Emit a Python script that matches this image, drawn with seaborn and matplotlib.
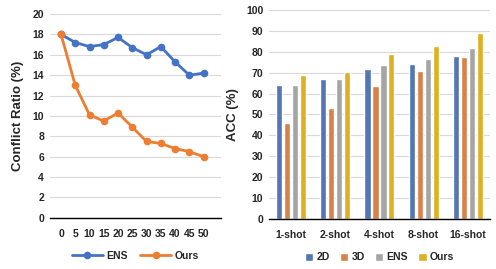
import pandas as pd
import numpy as np
import matplotlib
matplotlib.use('Agg')
import matplotlib.pyplot as plt
import seaborn as sns

# datos del grafico de la izquierda
pasos = [0, 5, 10, 15, 20, 25, 30, 35, 40, 45, 50]
ens_conflicto = [18.0, 17.2, 16.8, 17.0, 17.7, 16.7, 16.0, 16.8, 15.3, 14.0, 14.2]
ours_conflicto = [18.0, 13.0, 10.1, 9.5, 10.3, 8.9, 7.5, 7.3, 6.8, 6.5, 6.0]

# datos del grafico de la derecha
shots = ['1-shot', '2-shot', '4-shot', '8-shot', '16-shot']
acc_2d = [64.3, 66.9, 71.7, 74.1, 78.1]
acc_3d = [45.9, 53.1, 63.8, 70.7, 77.6]
acc_ens = [64.3, 66.9, 73.8, 76.7, 82.0]
acc_ours = [68.8, 70.2, 78.8, 82.7, 88.9]
metodos = ['2D', '3D', 'ENS', 'Ours']

colores = ['#4472C4', '#ED7D31', '#A5A5A5', '#FFC000']

sns.set_style('white')
plt.rcParams['font.family'] = ['Liberation Sans', 'DejaVu Sans']
plt.rcParams['font.weight'] = 'bold'

fig = plt.figure(figsize=(4.96, 2.69), dpi=100)
ax1 = fig.add_axes([0.100, 0.19, 0.345, 0.758])
ax2 = fig.add_axes([0.542, 0.186, 0.446, 0.777])

# linea de conflicto
df_lineas = pd.DataFrame({
    'paso': pasos * 2,
    'valor': ens_conflicto + ours_conflicto,
    'metodo': ['ENS'] * len(pasos) + ['Ours'] * len(pasos),
})
sns.lineplot(data=df_lineas, x='paso', y='valor', hue='metodo',
             palette=colores[:2], marker='o', markersize=5.5,
             markeredgewidth=0, linewidth=2, ax=ax1)
ax1.set_ylim(0, 20)
ax1.set_xlim(-4, 56)
ax1.set_yticks(range(0, 21, 2))
ax1.set_xticks(pasos)
ax1.grid(axis='y', color='#D9D9D9', linewidth=0.8)
ax1.set_axisbelow(True)
for s in ['top', 'right', 'left']:
    ax1.spines[s].set_visible(False)
ax1.spines['bottom'].set_color('black')
ax1.spines['bottom'].set_linewidth(1)
ax1.tick_params(axis='both', length=0, labelsize=7.5, pad=4)
ax1.tick_params(axis='x', pad=8)
ax1.set_xlabel('')
ax1.set_ylabel('Conflict Ratio (%)', fontsize=9.5, fontweight='bold', labelpad=6)
ax1.legend(loc='upper center', bbox_to_anchor=(0.5, -0.115), ncol=2,
           frameon=False, fontsize=7.5, handlelength=3, columnspacing=1.2,
           handletextpad=0.3)

# barras de accuracy
df_barras = pd.DataFrame({
    'shot': shots * 4,
    'acc': acc_2d + acc_3d + acc_ens + acc_ours,
    'metodo': [m for m in metodos for _ in shots],
})
sns.barplot(data=df_barras, x='shot', y='acc', hue='metodo', palette=colores,
            width=0.72, gap=0.22, ax=ax2)
ax2.set_ylim(0, 100)
ax2.set_yticks(range(0, 101, 10))
ax2.grid(axis='y', color='#D9D9D9', linewidth=0.8)
ax2.set_axisbelow(True)
for s in ['top', 'right', 'left']:
    ax2.spines[s].set_visible(False)
ax2.spines['bottom'].set_color('black')
ax2.spines['bottom'].set_linewidth(1)
ax2.tick_params(axis='both', length=0, labelsize=7.5, pad=4)
ax2.tick_params(axis='x', pad=8)
ax2.set_xlabel('')
ax2.set_ylabel('ACC (%)', fontsize=9.5, fontweight='bold', labelpad=5)
ax2.legend(loc='upper center', bbox_to_anchor=(0.5, -0.115), ncol=4,
           frameon=False, fontsize=7.5, handlelength=0.8, handleheight=0.8,
           columnspacing=1.0, handletextpad=0.3)

fig.savefig('out.png', dpi=100)
